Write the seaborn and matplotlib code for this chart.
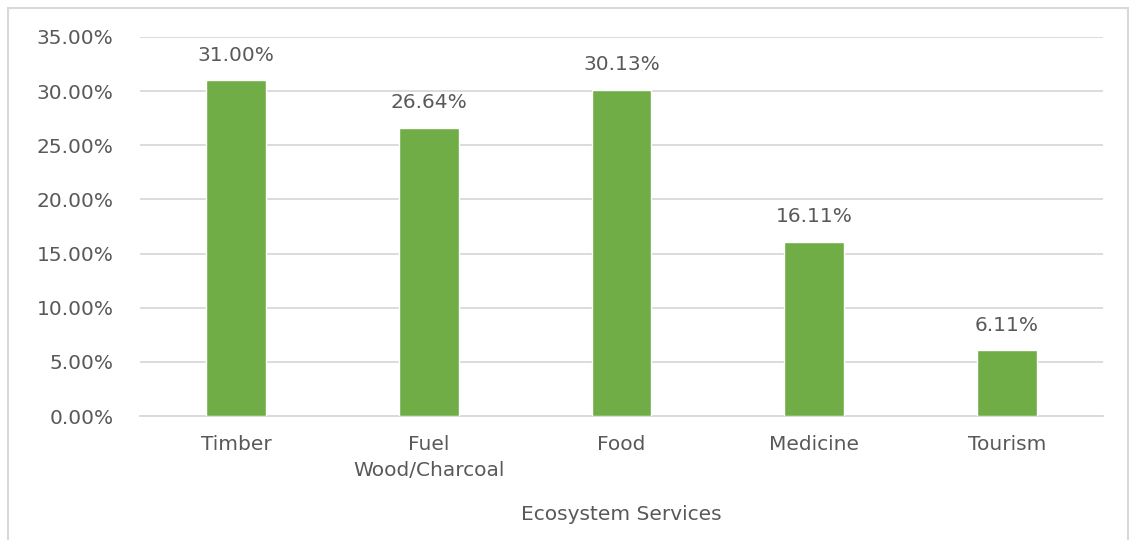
import matplotlib
matplotlib.use("Agg")
import matplotlib.pyplot as plt
import seaborn as sns
import pandas as pd
from matplotlib.patches import Rectangle
from matplotlib.ticker import FuncFormatter

# %%-----------------------------------------------------------------------
# data

services = ["Timber", "Fuel\nWood/Charcoal", "Food", "Medicine", "Tourism"]
shares = [31.00, 26.64, 30.13, 16.11, 6.11]
y_ticks = [0, 5, 10, 15, 20, 25, 30, 35]

df = pd.DataFrame({"service": services, "share": shares})

# %%-----------------------------------------------------------------------
# styling

sns.set_style("white")
plt.rcParams["font.family"] = ["DejaVu Sans"]
text_col = "#595959"
grid_col = "#D9D9D9"
bar_col = "#70AD47"
fs = 14.5

fig = plt.figure(figsize=(11.31, 5.4), dpi=100)
ax = fig.add_axes([0.1238, 0.2296, 0.8515, 0.7019])

sns.barplot(data=df, x="service", y="share", color=bar_col, width=0.31,
            saturation=1, ax=ax, zorder=3)

ax.set_ylim(0, 35)
ax.set_yticks(y_ticks)
ax.yaxis.set_major_formatter(FuncFormatter(lambda v, p: f"{v:.2f}%"))
ax.grid(axis="y", color=grid_col, linewidth=1.3, zorder=0)
ax.set_axisbelow(True)
for s in ["top", "right", "left"]:
    ax.spines[s].set_visible(False)
ax.spines["bottom"].set_color(grid_col)
ax.spines["bottom"].set_linewidth(1.3)

ax.tick_params(axis="both", length=0, colors=text_col, labelsize=fs)
ax.tick_params(axis="y", pad=19)
ax.tick_params(axis="x", pad=14)
for lbl in ax.get_xticklabels():
    lbl.set_linespacing(1.45)

ax.set_ylabel("")
ax.set_xlabel("Ecosystem Services", fontsize=fs, color=text_col, labelpad=18)

# data labels
for i, v in enumerate(shares):
    ax.annotate(f"{v:.2f}%", (i, v), xytext=(0, 11), textcoords="offset points",
                ha="center", va="bottom", fontsize=fs, color=text_col)

# chart border
fig.patches.append(Rectangle((8 / 1131, -0.02), 1120 / 1131, 1.0 - 8 / 540 + 0.02,
                             transform=fig.transFigure, fill=False,
                             edgecolor=grid_col, linewidth=1.5))

fig.savefig("out.png", dpi=100, facecolor="white")
